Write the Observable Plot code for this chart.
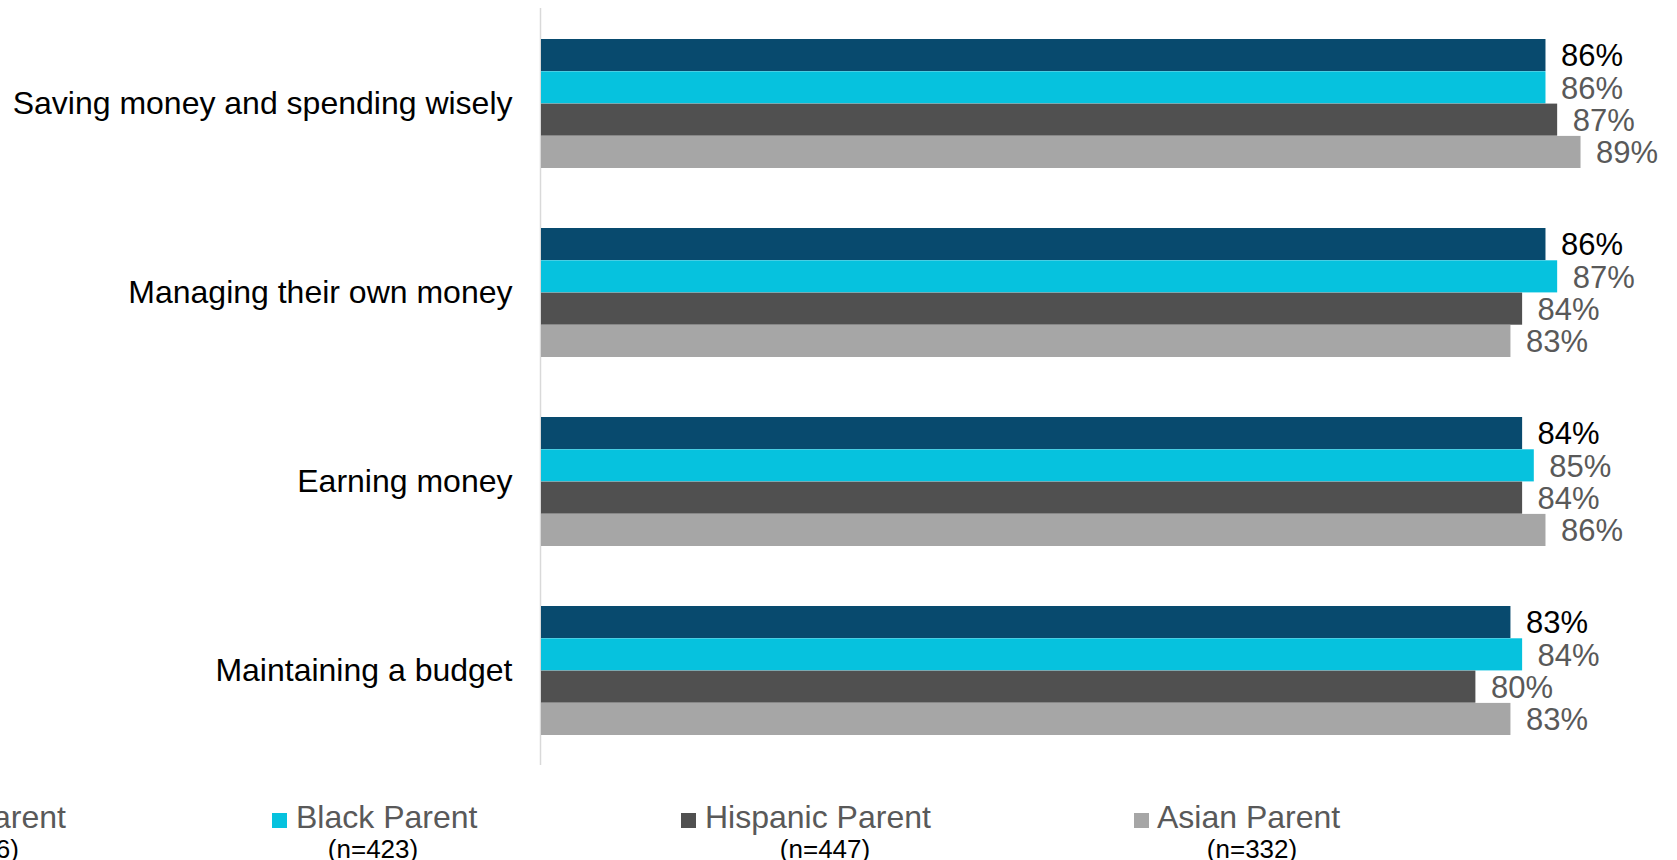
<!DOCTYPE html>
<html><head><meta charset="utf-8">
<script src="https://cdn.jsdelivr.net/npm/d3@7"></script>
<script src="https://cdn.jsdelivr.net/npm/@observablehq/plot@0.6"></script>
<style>
body{margin:0;background:#fff;font-family:"Liberation Sans",Arial,sans-serif;}
#wrap{width:1677px;height:860px;overflow:hidden;position:relative;background:#fff;}
#legend{position:relative;width:1677px;height:70px;overflow:hidden;}
.sw{position:absolute;width:15px;height:15px;top:23px;}
.lt{position:absolute;font-size:32px;line-height:32px;top:11px;color:#595959;white-space:nowrap;}
.ln{position:absolute;font-size:26px;line-height:26px;top:46px;color:#000;white-space:nowrap;}
</style></head><body><div id="wrap"><div id="chart"></div><div id="legend"></div></div>
<script>
// ---- data ----
const categories = [
  "Saving money and spending wisely",
  "Managing their own money",
  "Earning money",
  "Maintaining a budget"
];
const series = ["White Parent", "Black Parent", "Hispanic Parent", "Asian Parent"];
const nLabels = ["(n=1,006)", "(n=423)", "(n=447)", "(n=332)"];
const whiteParent    = [86, 86, 84, 83];
const blackParent    = [86, 87, 85, 84];
const hispanicParent = [87, 84, 84, 80];
const asianParent    = [89, 83, 86, 83];

// ---- styling / layout ----
const colors = ["#084A6E", "#06C2DE", "#505050", "#A6A6A6"];
const labelColors = ["#000000", "#595959", "#595959", "#595959"];
const values = [whiteParent, blackParent, hispanicParent, asianParent];

const W = 1677, H = 790, mTop = 8, mBottom = 25, mLeft = 541;
const pxPerPct = 11.68, xMax = 90;
const mRight = W - mLeft - xMax * pxPerPct;
const pIn = 0.318, pOut = 0.157;
const step = (H - mTop - mBottom) / (categories.length - pIn + 2 * pOut);
const band = step * (1 - pIn);
const barH = band / series.length;

const rows = categories.flatMap((c, ci) =>
  series.map((s, si) => ({category: c, series: s, value: values[si][ci], si})));

const marks = [Plot.ruleX([0], {stroke: "#d9d9d9", strokeWidth: 1.5, dx: -1})];
series.forEach((s, si) => {
  const sub = rows.filter(d => d.si === si);
  marks.push(Plot.barX(sub, {
    x: "value", y: "category", fill: "series",
    insetTop: si * barH, insetBottom: (series.length - 1 - si) * barH
  }));
  marks.push(Plot.text(sub, {
    x: "value", y: "category", text: d => d.value + "%",
    dx: 15, dy: (si - (series.length - 1) / 2) * barH + 1,
    textAnchor: "start", fontSize: 31, fill: labelColors[si]
  }));
});
marks.push(Plot.axisY({tickSize: 0, tickPadding: 29, fontSize: 32, label: null}));

const chart = Plot.plot({
  width: W, height: H,
  marginLeft: mLeft, marginRight: mRight, marginTop: mTop, marginBottom: mBottom,
  x: {domain: [0, xMax], axis: null},
  y: {domain: categories, paddingInner: pIn, paddingOuter: pOut, axis: null},
  color: {domain: series, range: colors},
  style: {fontFamily: '"Liberation Sans", Arial, sans-serif', color: "#000", background: "#fff", overflow: "visible"},
  marks
});
document.getElementById("chart").appendChild(chart);

// ---- legend ----
const legendLayout = [
  {textRight: 66, nRight: 19},
  {swatch: 272, text: 296, nCenter: 373},
  {swatch: 681, text: 705, nCenter: 825},
  {swatch: 1134, text: 1157, nCenter: 1252}
];
const legend = document.getElementById("legend");
series.forEach((s, i) => {
  const L = legendLayout[i];
  const t = document.createElement("span");
  t.className = "lt"; t.textContent = s;
  const n = document.createElement("span");
  n.className = "ln"; n.textContent = nLabels[i];
  legend.appendChild(t); legend.appendChild(n);
  if (L.textRight !== undefined) {
    t.style.right = (W - L.textRight) + "px";
    n.style.right = (W - L.nRight) + "px";
    const sw = document.createElement("div");
    sw.className = "sw"; sw.style.background = colors[i];
    legend.appendChild(sw);
    const tw = t.getBoundingClientRect().width;
    sw.style.left = (L.textRight - tw - 24) + "px";
  } else {
    const sw = document.createElement("div");
    sw.className = "sw"; sw.style.background = colors[i]; sw.style.left = L.swatch + "px";
    legend.appendChild(sw);
    t.style.left = L.text + "px";
    n.style.left = L.nCenter + "px";
    n.style.transform = "translateX(-50%)";
  }
});
</script></body></html>
